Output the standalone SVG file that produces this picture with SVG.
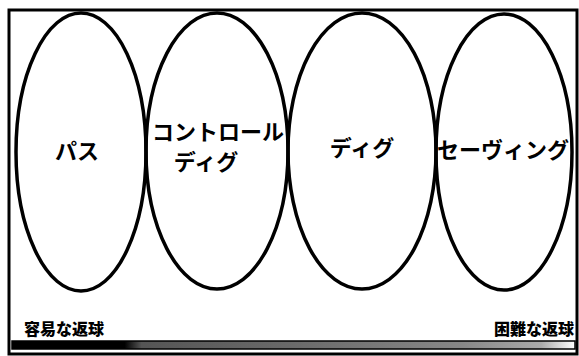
<svg xmlns="http://www.w3.org/2000/svg" width="579" height="356" viewBox="0 0 579 356">
<defs>
<linearGradient id="barg" x1="0" y1="0" x2="1" y2="0">
<stop offset="0" stop-color="#000"/>
<stop offset="0.2" stop-color="#000"/>
<stop offset="0.23" stop-color="#555"/>
<stop offset="0.5" stop-color="#6a6a6a"/>
<stop offset="0.8" stop-color="#888"/>
<stop offset="0.94" stop-color="#aaa"/>
<stop offset="1" stop-color="#fff"/>
</linearGradient>
</defs>
<style>
.ov{fill:none;stroke:#000;stroke-width:3.5}
.lb{font-family:"Noto Sans CJK JP","Noto Sans",sans-serif;font-weight:bold;font-size:22px;fill:#000;text-anchor:middle}
.sm{font-family:"Noto Sans CJK JP","Noto Sans",sans-serif;font-weight:900;font-size:16px;fill:#000}
</style>
<rect x="0" y="0" width="579" height="356" fill="#fff"/>
<rect x="9" y="10" width="568" height="344" fill="none" stroke="#000" stroke-width="3"/>
<g id="pass">
<ellipse class="ov" cx="81" cy="152" rx="65" ry="139"/>
<text class="lb" x="77" y="159">パス</text>
</g>
<g id="control-dig">
<ellipse class="ov" cx="217" cy="151" rx="71" ry="138"/>
<text class="lb" x="218" y="140">コントロール</text>
<text class="lb" x="206" y="170">ディグ</text>
</g>
<g id="dig">
<ellipse class="ov" cx="362" cy="151" rx="74" ry="138"/>
<text class="lb" x="362" y="156">ディグ</text>
</g>
<g id="saving">
<ellipse class="ov" cx="504" cy="152" rx="68" ry="138"/>
<text class="lb" x="503" y="158">セーヴィング</text>
</g>
<g id="scale">
<text class="sm" x="24" y="335">容易な返球</text>
<text class="sm" x="574" y="335" text-anchor="end">困難な返球</text>
<rect x="12" y="341" width="563" height="8" fill="url(#barg)" stroke="#000" stroke-width="1.5"/>
</g>
</svg>
